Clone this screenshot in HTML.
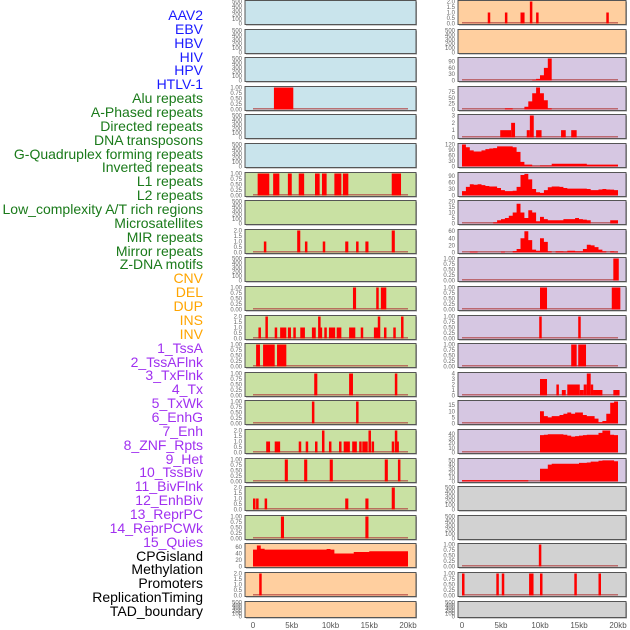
<!DOCTYPE html>
<html><head><meta charset="utf-8">
<style>
html,body{margin:0;padding:0;background:#fff;}
#wrap{position:relative;width:630px;height:630px;overflow:hidden;}
.lbl{position:absolute;right:427px;font-family:"Liberation Sans",sans-serif;font-size:14px;line-height:14px;white-space:nowrap;}
</style></head>
<body>
<div id="wrap">
<svg id="svg" width="630" height="630" style="position:absolute;left:0;top:0"></svg>
</div>
<script>
// ---------- data ----------
const trackLabels = ["AAV2","EBV","HBV","HIV","HPV","HTLV-1","Alu repeats","A-Phased repeats","Directed repeats","DNA transposons","G-Quadruplex forming repeats","Inverted repeats","L1 repeats","L2 repeats","Low_complexity A/T rich regions","Microsatellites","MIR repeats","Mirror repeats","Z-DNA motifs","CNV","DEL","DUP","INS","INV","1_TssA","2_TssAFlnk","3_TxFlnk","4_Tx","5_TxWk","6_EnhG","7_Enh","8_ZNF_Rpts","9_Het","10_TssBiv","11_BivFlnk","12_EnhBiv","13_ReprPC","14_ReprPCWk","15_Quies","CPGisland","Methylation","Promoters","ReplicationTiming","TAD_boundary"];
const labelGroups = ["v","v","v","v","v","v","r","r","r","r","r","r","r","r","r","r","r","r","r","s","s","s","s","s","c","c","c","c","c","c","c","c","c","c","c","c","c","c","c","o","o","o","o","o"];
const xTickLabels = ["0","5kb","10kb","15kb","20kb"];
const xTickValues = [0,5,10,15,20];

// bar tracks: [startKb, endKb, value]
const barsL3 = [[2.7,5.2,1]];
const barsL6 = [[0.6,2.1,1],[2.6,3.4,1],[4.5,5.0,1],[5.9,6.6,1],[8.0,8.6,1],[8.9,9.5,1],[10.5,11.4,1],[11.6,12.3,1],[17.9,19.1,1]];
const barsL8 = [[1.4,1.7,1],[5.7,6.1,2],[6.7,7.0,1],[9.0,9.3,1],[11.9,12.3,1],[13.3,13.6,1],[14.5,14.9,1],[17.9,18.3,2]];
const barsL10 = [[12.9,13.3,1],[15.9,16.2,1],[16.5,17.2,1]];
const barsL11 = [[0.7,1.0,1],[1.6,1.9,2],[2.8,3.1,1],[3.5,4.3,1],[4.5,4.9,1],[5.2,5.5,1],[6.1,6.7,1],[7.6,8.1,1],[8.4,8.6,2],[8.6,8.9,1],[9.2,9.4,1],[9.8,10.6,1],[10.8,11.4,1],[12.4,13.2,1],[13.9,14.2,1],[15.6,16.3,1],[16.1,16.4,2],[16.9,17.2,1],[18.1,18.4,1],[19.1,19.4,2]];
const barsL12 = [[0.4,0.9,1],[1.3,2.8,1],[3.1,4.3,1]];
const barsL13 = [[7.9,8.3,1],[12.4,12.9,1],[18.3,18.6,1]];
const barsL14 = [[7.6,7.9,1],[13.3,13.6,1]];
const barsL15 = [[1.7,2.2,1],[2.8,3.5,1],[5.9,6.2,1],[6.8,7.1,1],[8.0,8.3,1],[8.9,9.2,2],[9.8,10.1,1],[11.1,11.4,1],[11.7,12.5,1],[12.8,13.4,1],[13.7,13.9,1],[14.1,14.8,1],[14.9,15.2,2],[15.3,15.6,1],[17.9,18.2,1],[18.3,18.6,2],[18.5,18.8,1]];
const barsL16 = [[4.1,4.5,1],[6.6,7.0,1],[9.9,10.3,1],[17.0,17.4,1],[18.7,19.0,1]];
const barsL17 = [[0.0,0.2,1],[0.4,0.7,1],[1.5,1.8,1],[11.9,12.3,1],[14.5,14.9,1],[17.9,18.3,2]];
const barsL18 = [[3.6,4.0,1],[14.5,14.9,1]];
const barsL20 = [[0.8,1.1,2]];
const barsR0 = [[3.3,3.6,1],[5.5,5.8,1],[7.5,7.8,1],[7.7,8.0,1],[8.7,9.0,2],[9.5,9.8,1],[18.5,18.8,1]];
const barsR4 = [[4.9,6.3,1],[6.3,6.8,2],[8.3,8.7,1],[8.7,9.2,3],[9.5,10.2,1],[12.7,13.3,1],[14.0,14.7,1]];
const barsR9 = [[19.4,20.1,1]];
const barsR10 = [[10.0,10.9,1],[19.2,20.3,1]];
const barsR11 = [[9.9,10.2,1],[14.9,15.2,1]];
const barsR12 = [[14.0,14.7,1],[14.9,15.9,1]];
const barsR13 = [[10.0,10.9,3],[12.1,12.4,2],[12.8,13.3,1],[13.5,15.1,2],[15.1,15.6,1],[15.6,16.0,2],[16.0,16.5,4],[16.5,16.8,2],[16.8,18.0,1],[19.4,20.2,1]];
const barsR19 = [[9.85,10.1,1]];
const barsR20 = [[0.0,0.25,1],[4.4,4.65,1],[5.1,5.35,1],[8.6,8.85,1],[8.85,9.05,1],[10.0,10.25,1],[14.4,14.65,1],[17.5,17.75,1]];

// profile tracks: values in 0.5kb bins from 0 to 20kb
const profL19 = [52,65,55,52,52,52,52,52,52,52,52,52,52,52,52,52,52,52,52,54,52,40,40,40,40,40,45,45,45,45,47,47,47,47,47,47,47,47,47,47];
const profR2 = [0,0,0,0,0,0,0,0,0,0,0,0,0,0,0,0,0,0,3,8,25,60,105,0,0,0,0,0,0,0,0,0,0,0,0,0,0,0,0,0];
const profR3 = [0,0,0,0,0,0,0,0,0,0,0,5,5,0,0,0,12,35,70,95,70,40,5,0,0,0,0,0,0,0,0,0,0,0,0,0,0,0,0,0];
const profR5 = [120,105,88,82,82,88,95,98,100,110,110,110,110,105,80,25,10,10,2,2,5,5,5,15,15,15,15,15,15,15,15,15,10,10,10,10,10,10,10,10];
const profR6 = [20,40,52,50,52,48,44,42,42,35,25,20,20,22,40,95,100,75,30,15,12,25,38,42,42,40,35,32,32,32,32,32,30,25,25,28,30,28,27,25];
const profR7 = [0,0,0,0,0,0,0,0,1,3,4,5,7,10,18,10,5,12,10,2,6,4,3,3,3,3,4,4,4,5,4,3.5,3,0,0,0,0,0,3,3];
const profR8 = [0,0,2,2,0,0,0,0,0,0,2,0,0,4,10,40,60,35,8,5,40,30,3,0,3,3,2,5,5,3,3,10,22,20,15,8,3,0,3,2];
const profR14 = [0,0,0,0,0,0,0,0,0,0,0,0,0,0,0,0,0,0,0,0,10,6,5,6,6,7,8,9,8,9,9,7,6,6,4,1,2,8,17,18];
const profR15 = [0,0,0,0,0,0,0,0,0,0,0,0,0,0,0,0,0,0,0,0,37,38,39,39,39,39,38,36,34,35,36,37,38,38,38,42,47,47,38,37];
const profR16 = [3,3,3,3,3,3,3,3,3,3,3,3,3,3,3,3,3,0,0,0,30,30,40,42,42,42,42,42,42,42,44,44,45,47,47,49,50,50,50,48];

// tick label sets
const ticks500 = [0,100,200,300,400,500];
const ticks1 = [0,0.25,0.5,0.75,1];
const ticks2 = [0,0.5,1,1.5,2];

// ---------- layout ----------
const COLORS = {v:"#c9e4ec", r:"#c9e1a3", s:"#ffcf9f", c:"#d6c7e2", o:"#d2d2d2"};
const LABEL_COLORS = {v:"#1a1aff", r:"#1a7a1a", s:"#ffa500", c:"#a030f0", o:"#000000"};
const panels = [
 // col, row, group, ymax, ticks, tickDigits, bars, prof
 ["L",0,"v",500,ticks500,0,null,null],
 ["L",1,"v",500,ticks500,0,null,null],
 ["L",2,"v",500,ticks500,0,null,null],
 ["L",3,"v",1,ticks1,2,barsL3,null],
 ["L",4,"v",500,ticks500,0,null,null],
 ["L",5,"v",500,ticks500,0,null,null],
 ["L",6,"r",1,ticks1,2,barsL6,null],
 ["L",7,"r",500,ticks500,0,null,null],
 ["L",8,"r",2,ticks2,1,barsL8,null],
 ["L",9,"r",500,ticks500,0,null,null],
 ["L",10,"r",1,ticks1,2,barsL10,null],
 ["L",11,"r",2,ticks2,1,barsL11,null],
 ["L",12,"r",1,ticks1,2,barsL12,null],
 ["L",13,"r",1,ticks1,2,barsL13,null],
 ["L",14,"r",1,ticks1,2,barsL14,null],
 ["L",15,"r",2,ticks2,1,barsL15,null],
 ["L",16,"r",1,ticks1,2,barsL16,null],
 ["L",17,"r",2,ticks2,1,barsL17,null],
 ["L",18,"r",1,ticks1,2,barsL18,null],
 ["L",19,"s",68,[0,20,40,60],0,null,profL19],
 ["L",20,"s",2,ticks2,1,barsL20,null],
 ["L",21,"s",500,ticks500,0,null,null],
 ["R",0,"s",2,ticks2,1,barsR0,null],
 ["R",1,"s",500,ticks500,0,null,null],
 ["R",2,"c",105,[0,30,60,90],0,null,profR2],
 ["R",3,"c",95,[0,25,50,75],0,null,profR3],
 ["R",4,"c",3,[0,1,2,3],0,barsR4,null],
 ["R",5,"c",120,[0,30,60,90,120],0,null,profR5],
 ["R",6,"c",102,[0,30,60,90],0,null,profR6],
 ["R",7,"c",20,[0,5,10,15,20],0,null,profR7],
 ["R",8,"c",62,[0,20,40,60],0,null,profR8],
 ["R",9,"c",1,ticks1,2,barsR9,null],
 ["R",10,"c",1,ticks1,2,barsR10,null],
 ["R",11,"c",1,ticks1,2,barsR11,null],
 ["R",12,"c",1,ticks1,2,barsR12,null],
 ["R",13,"c",4,[0,1,2,3,4],0,barsR13,null],
 ["R",14,"c",18,[0,5,10,15],0,null,profR14],
 ["R",15,"c",47,[0,10,20,30,40],0,null,profR15],
 ["R",16,"c",52,[0,10,20,30,40,50],0,null,profR16],
 ["R",17,"o",500,ticks500,0,null,null],
 ["R",18,"o",500,ticks500,0,null,null],
 ["R",19,"o",1,ticks1,2,barsR19,null],
 ["R",20,"o",1,ticks1,2,barsR20,null],
 ["R",21,"o",500,ticks500,0,null,null]
];

const NS = "http://www.w3.org/2000/svg";
const svg = document.getElementById("svg");
function mk(tag, attrs, parent){
  const e = document.createElementNS(NS, tag);
  for (const k in attrs) e.setAttribute(k, attrs[k]);
  (parent||svg).appendChild(e);
  return e;
}
const COL = {L:{x0:245,x1:416,z:253,s:7.75}, R:{x0:458,x1:626,z:462,s:7.8}};
function rowTop(r){ return Math.round(r*28.6)+0.5; }
function rowH(r){ return r===21 ? 16 : 24; }

panels.forEach(function(p){
  const c = COL[p[0]], r = p[1], grp = p[2], ymax = p[3], ticks = p[4], dig = p[5], bars = p[6], prof = p[7];
  const top = rowTop(r), h = rowH(r), bot = top + h;
  const xs = function(kb){ return c.z + kb*c.s; };
  const ys = function(v){ return bot - 1 - (v/ymax)*(h-2); };
  const g = mk("g", {});
  
  
  mk("rect", {x:c.x0+1, y:top+1, width:c.x1-c.x0, height:h, fill:"#999"}, g);
  mk("rect", {x:c.x0, y:top, width:c.x1-c.x0, height:h, fill:COLORS[grp], stroke:"#555", "stroke-width":1}, g);
  // ticks
  ticks.forEach(function(t){
    const tx = mk("text", {x:c.x0-3, y:ys(t)+2, "font-size":6, fill:"#666", "text-anchor":"end", "font-family":"Liberation Sans, sans-serif"}, g);
    tx.textContent = dig ? t.toFixed(dig) : String(t);
    
    
  });
  if (bars || prof) {
    mk("rect", {x:xs(0), y:bot-2.5, width:xs(20)-xs(0), height:1.5, fill:"#b04040", opacity:0.7}, g);
  }
  if (bars) {
    bars.forEach(function(b){
      const x0 = xs(b[0]), w = Math.max(xs(b[1])-x0, 2.5);
      const br = mk("rect", {x:x0, y:ys(b[2]), width:w, height:ys(0)-ys(b[2]), fill:"#ff0000"}, g);
      
      
    });
  }
  if (prof) {
    let d = "M" + xs(0) + "," + ys(0);
    prof.forEach(function(v,i){
      d += " L" + xs(i*0.5) + "," + ys(v) + " L" + xs(i*0.5+0.5) + "," + ys(v);
    });
    d += " L" + xs(20) + "," + ys(0) + " Z";
    const pa = mk("path", {d:d, fill:"#ff0000"}, g);
    
    
  }
});

// x axes
["L","R"].forEach(function(k){
  const c = COL[k];
  xTickValues.forEach(function(v,i){
    const t = mk("text", {x:c.z + v*c.s, y:628, "font-size":8, fill:"#555", "text-anchor":"middle", "font-family":"Liberation Sans, sans-serif"});
    t.textContent = xTickLabels[i];
    
    
  });
});

// labels
const wrap = document.getElementById("wrap");
trackLabels.forEach(function(name,i){
  const d = document.createElement("div");
  d.className = "lbl";
  d.style.top = (8 + i*13.86) + "px";
  d.style.color = LABEL_COLORS[labelGroups[i]];
  d.textContent = name;
  
  
  wrap.appendChild(d);
});
</script>
</body></html>
